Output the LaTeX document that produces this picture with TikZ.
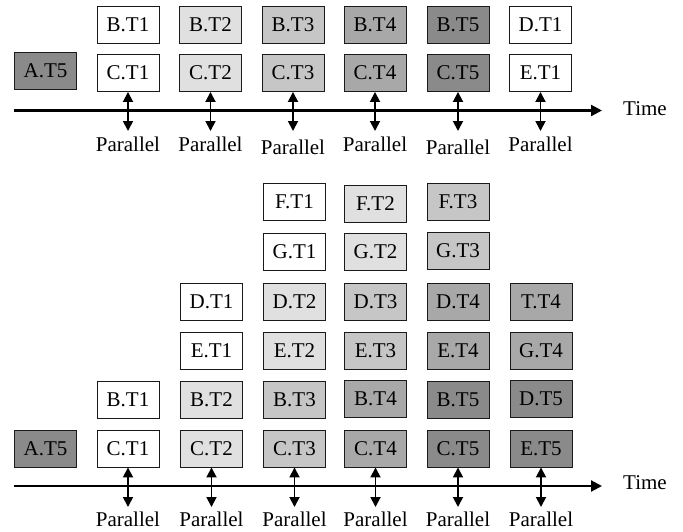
\documentclass[tikz,border=0pt]{standalone}
\usepackage{fontspec}
\setmainfont{Liberation Serif}
\usetikzlibrary{arrows.meta}

\definecolor{shadeA}{HTML}{FFFFFF}
\definecolor{shadeB}{HTML}{E0E0E0}
\definecolor{shadeC}{HTML}{C6C6C6}
\definecolor{shadeD}{HTML}{A8A8A8}
\definecolor{shadeE}{HTML}{8A8A8A}
\definecolor{edge}{HTML}{1A1A1A}

\tikzset{
  task/.style={draw=edge, line width=0.9pt, minimum width=62pt, minimum height=37pt,
               inner sep=0pt, font=\fontsize{21}{24}\selectfont},
  label/.style={inner sep=0pt, font=\fontsize{21}{24}\selectfont},
  timeline/.style={line width=2.2pt, -{Triangle[length=11pt,width=11pt]}},
  sync/.style={line width=1.8pt, {Triangle[length=10pt,width=10pt]}-{Triangle[length=10pt,width=10pt]}},
}

\begin{document}
\begin{tikzpicture}[x=1pt,y=-1pt]
\useasboundingbox (0,0) rectangle (683,531);

% ---------- upper schedule ----------
\node[task, fill=shadeE] (uA5) at (45.5,71) {A.T5};

\node[task, fill=shadeA] (uB1) at (128,24.5) {B.T1};
\node[task, fill=shadeB] (uB2) at (210.5,24.5) {B.T2};
\node[task, fill=shadeC] (uB3) at (293,24.5) {B.T3};
\node[task, fill=shadeD] (uB4) at (375,24.5) {B.T4};
\node[task, fill=shadeE] (uB5) at (458,24.5) {B.T5};
\node[task, fill=shadeA] (uD1) at (540.5,24.5) {D.T1};

\node[task, fill=shadeA] (uC1) at (128,73) {C.T1};
\node[task, fill=shadeB] (uC2) at (210.5,73) {C.T2};
\node[task, fill=shadeC] (uC3) at (293,73) {C.T3};
\node[task, fill=shadeD] (uC4) at (375,73) {C.T4};
\node[task, fill=shadeE] (uC5) at (458,73) {C.T5};
\node[task, fill=shadeA] (uE1) at (540.5,73) {E.T1};

\coordinate (uAxisStart) at (14,110.5);
\coordinate (uAxisEnd) at (602,110.5);
\draw[timeline] (uAxisStart) -- (uAxisEnd);
\node[label] (uTime) at (645,109) {Time};

\foreach \n/\x/\ly in {1/128/144, 2/210.5/144, 3/293/147, 4/375/144, 5/458/147, 6/540.5/144}{
  \coordinate (uP\n) at (\x,131);
  \node[label] (uPar\n) at (\x,\ly) {Parallel};
}
\draw[sync] (uC1.south) -- (uP1);
\draw[sync] (uC2.south) -- (uP2);
\draw[sync] (uC3.south) -- (uP3);
\draw[sync] (uC4.south) -- (uP4);
\draw[sync] (uC5.south) -- (uP5);
\draw[sync] (uE1.south) -- (uP6);

% ---------- lower schedule ----------
\node[task, fill=shadeA] (lF1) at (294.5,202) {F.T1};
\node[task, fill=shadeB] (lF2) at (375.5,204) {F.T2};
\node[task, fill=shadeC] (lF3) at (458,202) {F.T3};

\node[task, fill=shadeA] (lG1) at (294.5,251.5) {G.T1};
\node[task, fill=shadeB] (lG2) at (375.5,252) {G.T2};
\node[task, fill=shadeC] (lG3) at (458,250.5) {G.T3};

\node[task, fill=shadeA] (lD1) at (211.5,301.5) {D.T1};
\node[task, fill=shadeB] (lD2) at (294.5,301.5) {D.T2};
\node[task, fill=shadeC] (lD3) at (375.5,301.5) {D.T3};
\node[task, fill=shadeD] (lD4) at (458,301.5) {D.T4};
\node[task, fill=shadeD] (lT4) at (541,301.5) {T.T4};

\node[task, fill=shadeA] (lE1) at (211.5,350.5) {E.T1};
\node[task, fill=shadeB] (lE2) at (294.5,350.5) {E.T2};
\node[task, fill=shadeC] (lE3) at (375.5,350.5) {E.T3};
\node[task, fill=shadeD] (lE4) at (458,350.5) {E.T4};
\node[task, fill=shadeD] (lG4) at (541,350.5) {G.T4};

\node[task, fill=shadeA] (lB1) at (128,400) {B.T1};
\node[task, fill=shadeB] (lB2) at (211.5,400) {B.T2};
\node[task, fill=shadeC] (lB3) at (294.5,400) {B.T3};
\node[task, fill=shadeD] (lB4) at (375.5,399) {B.T4};
\node[task, fill=shadeE] (lB5) at (458,400) {B.T5};
\node[task, fill=shadeE] (lD5) at (541,399) {D.T5};

\node[task, fill=shadeE] (lA5) at (45.5,448.5) {A.T5};
\node[task, fill=shadeA] (lC1) at (128,448.5) {C.T1};
\node[task, fill=shadeB] (lC2) at (211.5,448.5) {C.T2};
\node[task, fill=shadeC] (lC3) at (294.5,448.5) {C.T3};
\node[task, fill=shadeD] (lC4) at (375.5,448.5) {C.T4};
\node[task, fill=shadeE] (lC5) at (458,448.5) {C.T5};
\node[task, fill=shadeE] (lE5) at (541,448.5) {E.T5};

\coordinate (lAxisStart) at (14,486);
\coordinate (lAxisEnd) at (602,486);
\draw[timeline] (lAxisStart) -- (lAxisEnd);
\node[label] (lTime) at (645,483) {Time};

\foreach \n/\x in {1/128, 2/211.5, 3/294.5, 4/375.5, 5/458, 6/541}{
  \coordinate (lP\n) at (\x,507);
  \node[label] (lPar\n) at (\x,519.5) {Parallel};
}
\draw[sync] (lC1.south) -- (lP1);
\draw[sync] (lC2.south) -- (lP2);
\draw[sync] (lC3.south) -- (lP3);
\draw[sync] (lC4.south) -- (lP4);
\draw[sync] (lC5.south) -- (lP5);
\draw[sync] (lE5.south) -- (lP6);
\end{tikzpicture}
\end{document}
